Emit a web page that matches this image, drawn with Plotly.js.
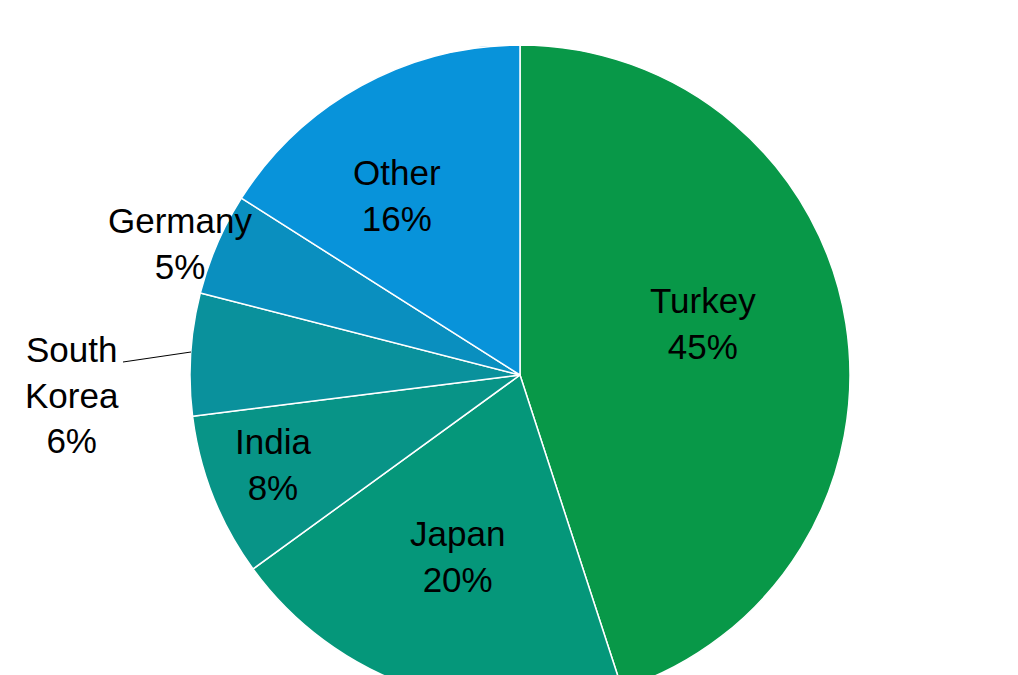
<!DOCTYPE html>
<html>
<head>
<meta charset="utf-8">
<script src="https://cdn.plot.ly/plotly-3.0.1.min.js"></script>
<style>
html, body { margin: 0; padding: 0; overflow: hidden; background: #fff; }
#chart { width: 1018px; height: 750px; }
</style>
</head>
<body>
<div id="chart"></div>
<script>
const countries = ['Turkey', 'Japan', 'India', 'South Korea', 'Germany', 'Other'];
const shares = [45, 20, 8, 6, 5, 16];
const sliceColors = ['#089848', '#05977a', '#089487', '#0a919c', '#0a8fbf', '#0893da'];
const labelLines = ['Turkey', 'Japan', 'India', 'South<br>Korea', 'Germany', 'Other'];

const W = 1018, H = 750;
// label centres in pixels (from the top-left)
const labelPos = [[703, 323], [457, 556], [273, 464], [72, 395], [180, 243], [397, 196]];

const annotations = labelLines.map((t, i) => ({
  text: t + '<br>' + shares[i] + '%',
  x: labelPos[i][0] / W,
  y: 1 - labelPos[i][1] / H,
  xref: 'paper', yref: 'paper',
  xanchor: 'center', yanchor: 'middle',
  showarrow: false,
  align: 'center',
  font: { family: 'Liberation Sans, Arial, sans-serif', size: 35, color: '#000' }
}));

const data = [{
  type: 'pie',
  labels: countries,
  values: shares,
  sort: false,
  direction: 'clockwise',
  rotation: 0,
  textinfo: 'none',
  hoverinfo: 'label+percent',
  marker: { colors: sliceColors, line: { color: '#ffffff', width: 1.5 } },
  domain: { x: [190 / W, 850 / W], y: [(H - 705) / H, (H - 45) / H] },
  showlegend: false
}];

const layout = {
  width: W, height: H,
  margin: { l: 0, r: 0, t: 0, b: 0 },
  paper_bgcolor: '#ffffff',
  showlegend: false,
  annotations: annotations,
  shapes: [{
    type: 'line', xref: 'paper', yref: 'paper',
    x0: 123 / W, y0: 1 - 362 / H, x1: 191 / W, y1: 1 - 352 / H,
    line: { color: '#000', width: 1 }
  }]
};

Plotly.newPlot('chart', data, layout, { displayModeBar: false, staticPlot: true });
</script>
</body>
</html>
